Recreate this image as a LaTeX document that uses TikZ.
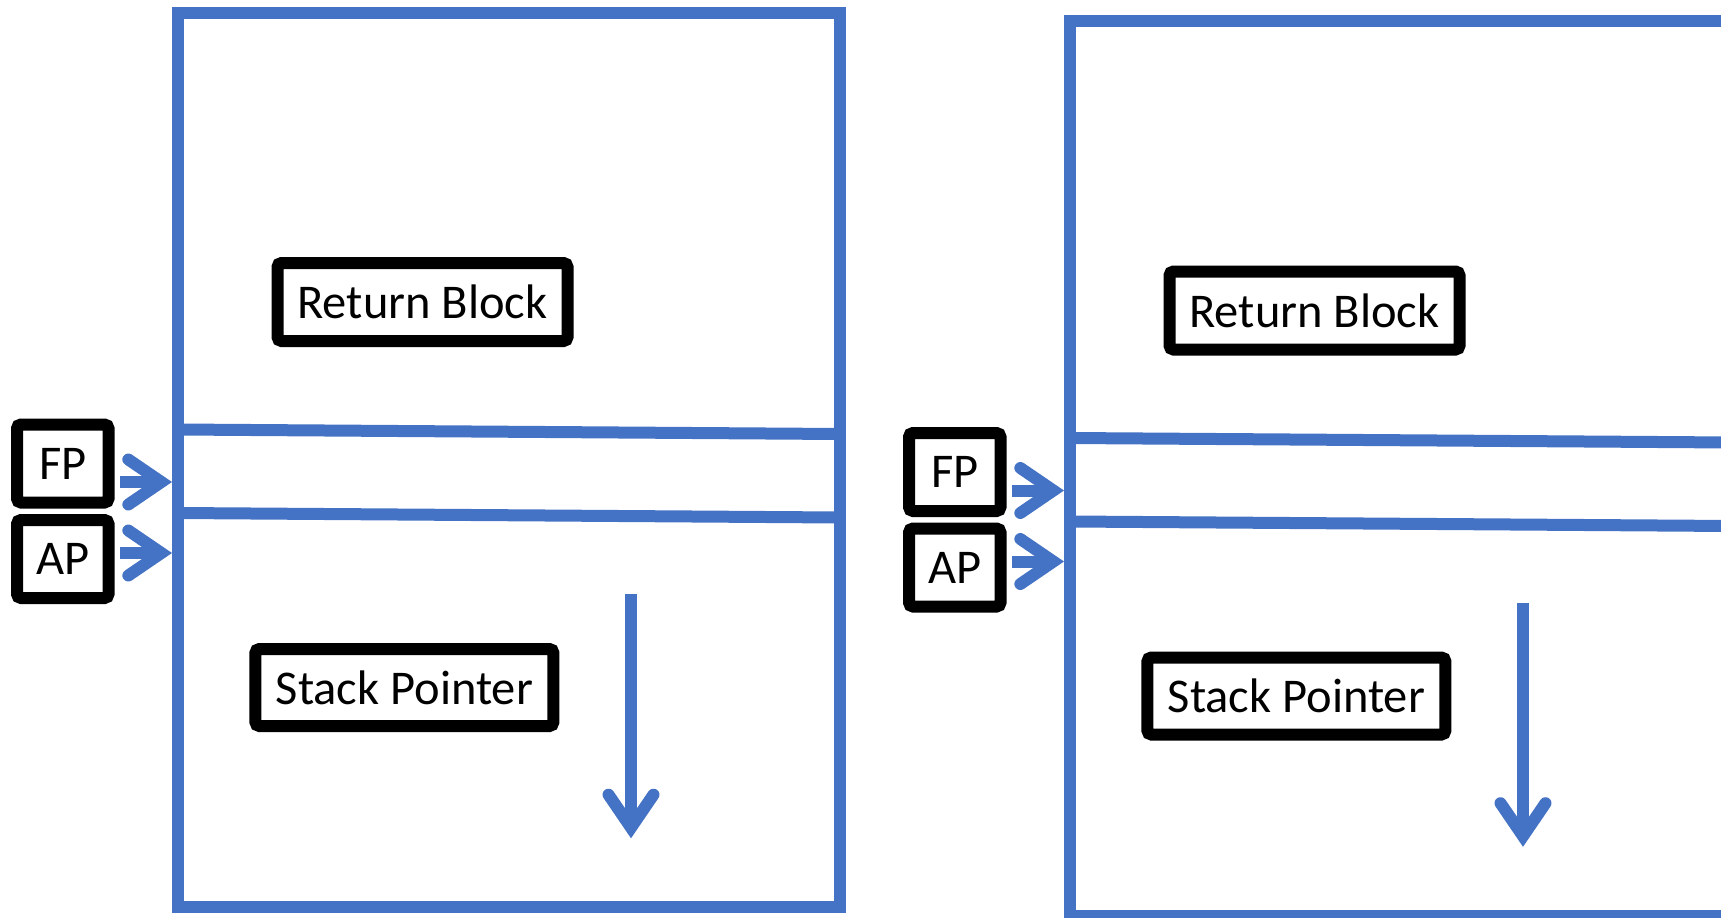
\documentclass[tikz,border=0pt]{standalone}
\usepackage{fontspec}
\setmainfont{Carlito}
\usetikzlibrary{arrows.meta}
\definecolor{acc}{HTML}{4472C4}
\tikzset{
  framebox/.style={draw=acc, line width=12pt},
  blk/.style={draw=black, line width=12pt, rounded corners=4pt, fill=white, inner sep=0pt,
    minimum height=78pt, font=\fontsize{48.5}{56}\selectfont},
  arr/.style={draw=acc, line width=12pt,
    -{Straight Barb[length=33pt,width=45pt,line cap=round,line join=miter]}},
}
\newcommand\stackframe[1]{%
  \draw[framebox] (178,12.5) rectangle (840,907);
  \draw[framebox] (178,429.5) -- (840,434);
  \draw[framebox] (178,513) -- (840,517.5);
  \node[blk, minimum width=290pt] (#1rb) at (422.5,302) {Return Block};
  \node[blk, minimum width=298pt, minimum height=77pt] (#1sp) at (404.4,687.5) {Stack Pointer};
  \node[blk, minimum width=91.5pt] (#1fp) at (62.75,463.5) {FP};
  \node[blk, minimum width=91.5pt] (#1ap) at (62.75,559) {AP};
  \coordinate (#1fps) at (120,482);
  \coordinate (#1fpt) at (172,482);
  \coordinate (#1aps) at (120,553);
  \coordinate (#1apt) at (172,553);
  \coordinate (#1sps) at (631,594);
  \coordinate (#1spt) at (631,838.3);
  \draw[arr] (#1fps) -- (#1fpt);
  \draw[arr] (#1aps) -- (#1apt);
  \draw[arr] (#1sps) -- (#1spt);
}
\begin{document}
\begin{tikzpicture}[x=1pt,y=-1pt]
  \useasboundingbox (0,0) rectangle (1721,918);
  \begin{scope}
    \stackframe{L}
  \end{scope}
  \begin{scope}[shift={(892,8.5)}]
    \stackframe{R}
  \end{scope}
\end{tikzpicture}
\end{document}
